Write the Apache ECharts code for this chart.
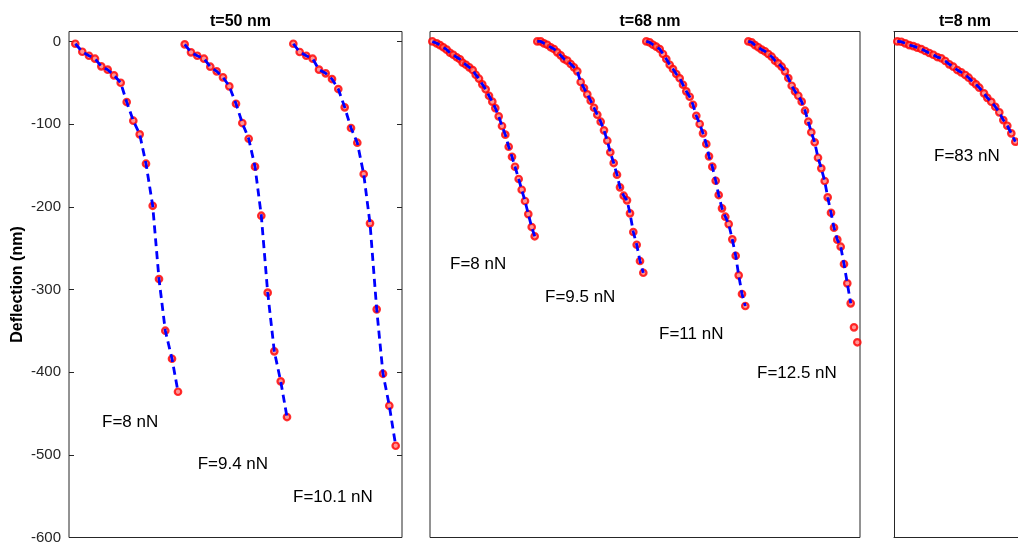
<!DOCTYPE html>
<html><head><meta charset="utf-8">
<script src="https://cdn.jsdelivr.net/npm/echarts@6/dist/echarts.min.js"></script>
<style>html,body{margin:0;padding:0;background:#fff}#c{width:1018px;height:545px}</style>
</head><body><div id="c"></div>
<script>
const panelTitles = ['t=50 nm', 't=68 nm', 't=8 nm'];
const yAxisTitle = 'Deflection (nm)';
const yMin = -600, yMax = 12, yStep = 100;

// Panel 1 (t=50 nm)
const p1F8 = [[6.3,-2.8],[13.3,-12.5],[20,-17.3],[26,-20.9],[32.3,-30.1],[38.7,-34.2],[45,-41],[51.7,-50],[57.7,-73.3],[64.3,-95.9],[70.7,-112.4],[77,-147.9],[83.7,-198.8],[90,-287.4],[96.3,-349.9],[103,-383.8],[109,-423.7]];
const p1F94 = [[115.7,-3.5],[122,-13.2],[128.3,-17.3],[135,-20.9],[141.3,-30.6],[147.7,-36.2],[154,-43.4],[160.3,-54.3],[167,-75.4],[173.3,-98.7],[179.7,-117.7],[186,-151.5],[192.3,-210.8],[198.7,-303.9],[205.3,-374.8],[211.7,-411.1],[218,-454.3]];
const p1F101 = [[224.3,-2.8],[230.7,-12.8],[237.3,-17.3],[243.7,-20.9],[250,-34.2],[256.7,-38.6],[263,-45.5],[269.3,-57.6],[275.7,-79.7],[282,-104.7],[288.3,-122.5],[294.7,-160.4],[301,-220],[307.7,-324],[314,-402],[320.3,-440.6],[326.7,-489]];

// Panel 2 (t=68 nm)
const p2F8 = [[2.3,0],[6.7,-2.3],[10,-4.4],[13.3,-7.1],[16.7,-10],[20,-13.7],[23.3,-16.1],[26.7,-19.2],[30,-21.6],[32.7,-25.8],[36,-28.2],[39.3,-31.3],[42.7,-34.6],[45.7,-40.3],[49,-45.1],[52.3,-51.9],[55.7,-57.9],[59,-65.7],[62.3,-72.9],[65.3,-80.6],[68.7,-90.6],[72,-102.3],[75.3,-112.8],[78.7,-127.4],[82,-139.5],[85,-151.6],[88.7,-166.4],[91.7,-179.4],[95,-193],[98.3,-208.8],[101.7,-224.5],[104.7,-235.7]];
const p2F95 = [[107.3,0],[110.7,0],[114,-2.3],[117.3,-4],[120.7,-7.1],[124,-9.2],[127.3,-13.2],[130.7,-16.8],[134,-21.3],[137.3,-23.3],[140.7,-27.3],[144,-31.3],[147.3,-36.2],[150.7,-49.1],[154,-56.4],[157.3,-64],[160.7,-71.7],[164,-80.2],[167.3,-88.7],[170.7,-97.1],[174,-107.5],[177.3,-120.1],[180.3,-134.1],[183.7,-147.1],[187,-161.2],[190,-176.5],[193.7,-186.6],[197,-192.2],[200,-207.9],[203.3,-230.5],[206.7,-245.9],[210,-265.6],[213.3,-279.8]];
const p2F11 = [[216.3,0],[219.7,-1.1],[223,-4],[226.3,-6.4],[229.7,-9.2],[233,-15.2],[236.3,-21.3],[239.7,-28.2],[243,-33.4],[246.3,-39.4],[249.7,-44.6],[253,-52.4],[256.3,-60.4],[259.7,-66.9],[263,-76.6],[266.3,-89.9],[269.7,-99.9],[273,-111.2],[276.3,-124.1],[279,-139],[282.3,-151.5],[285.7,-168.5],[288.7,-185.8],[292,-201.9],[295.3,-212],[298.7,-220.9],[302.3,-239.4],[305.7,-259.2],[308.7,-282.9],[312,-305.5],[315.3,-320]];
const p2F125 = [[318.3,0],[321.7,-1.1],[325,-4.4],[328.3,-7.1],[331.7,-10],[335,-12],[338.3,-15.2],[341.7,-18.5],[345,-23.3],[348.3,-26.5],[351.7,-30.6],[355,-36.2],[358.3,-44.3],[361.7,-53.6],[365,-60.4],[368.3,-65.7],[371.7,-72.9],[375,-83.8],[378.3,-97.1],[381.3,-109.9],[384.7,-122],[388,-140.7],[391.3,-153.5],[394.7,-168.8],[397.7,-188.6],[401,-207.2],[404,-225.3],[407.3,-239.8],[410.7,-248.3],[414,-269.2],[417.3,-292.6],[420.7,-316.8],[424,-345.8],[427.3,-363.9]];

// Panel 3 (t=8 nm)
const p3F83 = [[3.3,0],[7.3,-0.4],[11.3,-2.3],[15.3,-4.4],[19.3,-5.6],[23.3,-7.6],[27.3,-9.2],[31.3,-11.6],[35.3,-14],[39.3,-16.1],[43.3,-18.9],[47.3,-20.4],[51.3,-23.7],[55.3,-27.7],[59.3,-30.6],[63.3,-34.6],[67.3,-37.4],[71.3,-40.6],[74.7,-43.9],[78.7,-48.7],[82,-51.9],[85.3,-56],[90,-62.8],[93.3,-68.2],[97.3,-73],[101.3,-79],[105.3,-85.8],[109.3,-95.1],[113.3,-102],[117.3,-111.2],[121.3,-121.3]];

const panelCurves = [[p1F8, p1F94, p1F101], [p2F8, p2F95, p2F11, p2F125], [p3F83]];
// number of points covered by the dashed fit line of each curve
const fitCounts = [[17, 17, 17], [32, 33, 31, 32], [31]];

// curve labels: [x, y, text]
const p1Labels = [[33,-461,'F=8 nN'],[128.7,-511,'F=9.4 nN'],[224,-551,'F=10.1 nN']];
const p2Labels = [[20,-270,'F=8 nN'],[115,-310,'F=9.5 nN'],[229,-354,'F=11 nN'],[327,-401,'F=12.5 nN']];
const p3Labels = [[40,-139,'F=83 nN']];
const panelLabels = [p1Labels, p2Labels, p3Labels];

// layout
const FONT = 'Liberation Sans, Arial, Helvetica, sans-serif';
const gridTop = 31.5, gridHeight = 506;
// panel 3 continues past the right edge of the picture (only 124 px are visible)
const gridBoxes = [{left:69, width:333, box:true}, {left:430, width:430, box:true}, {left:894, width:124, box:false}];
const titleCenters = [235.5, 645, 960];

const edge = {show: true, onZero: false, lineStyle: {color: '#262626', width: 1}};
const grids = gridBoxes.map(g => ({
  left: g.left, top: gridTop, width: g.width, height: gridHeight,
  show: g.box, borderColor: '#262626', borderWidth: 1, backgroundColor: 'transparent'
}));
const xAxes = [];
gridBoxes.forEach((g, i) => {
  xAxes.push({
    type: 'value', gridIndex: i, min: 0, max: g.width, position: 'bottom',
    axisLine: g.box ? {show: false} : edge,
    axisTick: {show: false}, axisLabel: {show: false}, splitLine: {show: false}
  });
});
// top edge for the open panel
xAxes.push({
  type: 'value', gridIndex: 2, min: 0, max: gridBoxes[2].width, position: 'top',
  axisLine: edge,
  axisTick: {show: false}, axisLabel: {show: false}, splitLine: {show: false}
});

const yAxes = gridBoxes.map((g, i) => ({
  type: 'value', gridIndex: i, min: yMin, max: yMax, interval: yStep, position: 'left',
  name: i === 0 ? yAxisTitle : '',
  nameLocation: 'middle', nameGap: 43,
  nameTextStyle: {fontFamily: FONT, fontSize: 16, fontWeight: 'bold', color: '#000'},
  axisLine: g.box ? {show: false} : edge,
  axisTick: {show: i === 0, inside: true, length: 5, lineStyle: {color: '#262626'}},
  axisLabel: {show: i === 0, fontFamily: FONT, fontSize: 15, color: '#262626', margin: 8, showMaxLabel: false},
  splitLine: {show: false}
}));
// right-side ticks of panel 1
yAxes.push({
  type: 'value', gridIndex: 0, position: 'right', min: yMin, max: yMax, interval: yStep,
  axisLine: {show: false},
  axisTick: {show: true, inside: true, length: 5, lineStyle: {color: '#262626'}},
  axisLabel: {show: false}, splitLine: {show: false}
});

const series = [];
panelCurves.forEach((curves, p) => {
  curves.forEach((c, k) => {
    series.push({
      type: 'scatter', xAxisIndex: p, yAxisIndex: p, data: c,
      symbol: 'circle', symbolSize: 6.5,
      itemStyle: {color: '#ff7a7a', borderColor: '#ff0000', borderWidth: 2.2},
      z: 2, silent: true
    });
    series.push({
      type: 'line', xAxisIndex: p, yAxisIndex: p, data: c.slice(0, fitCounts[p][k]),
      showSymbol: false, symbol: 'none',
      lineStyle: {color: '#0000ff', width: 2.8, type: [8, 5]},
      z: 3, silent: true
    });
  });
  series.push({
    type: 'scatter', xAxisIndex: p, yAxisIndex: p,
    data: panelLabels[p].map(l => ({value: [l[0], l[1]], name: l[2]})),
    symbolSize: 0, itemStyle: {color: '#000', opacity: 1},
    label: {show: true, position: 'right', distance: 0, formatter: '{b}',
      fontFamily: FONT, fontSize: 17, color: '#000000', opacity: 1},
    z: 4, silent: true
  });
});

const titles = panelTitles.map((t, i) => ({
  text: t, left: titleCenters[i], top: 9, textAlign: 'center',
  textStyle: {fontFamily: FONT, fontSize: 16, fontWeight: 'bold', color: '#000'}
}));

const chart = echarts.init(document.getElementById('c'), null, {renderer: 'canvas'});
chart.setOption({
  animation: false,
  backgroundColor: '#fff',
  title: titles,
  grid: grids,
  xAxis: xAxes,
  yAxis: yAxes,
  series: series
});
</script></body></html>
